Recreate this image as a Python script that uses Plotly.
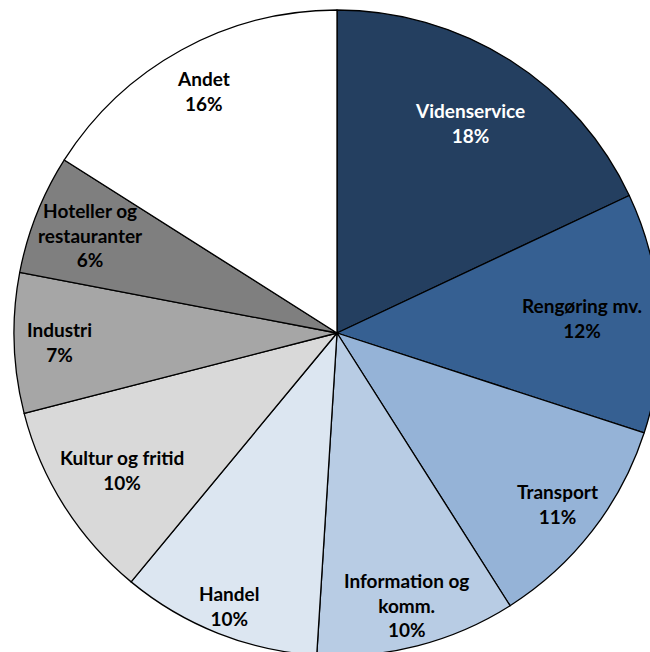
import math
import plotly.graph_objects as go

labels = ["Videnservice", "Rengøring mv.", "Transport", "Information og<br>komm.", "Handel",
          "Kultur og fritid", "Industri", "Hoteller og<br>restauranter", "Andet"]
values = [18, 12, 11, 10, 10, 10, 7, 6, 16]
colors = ["#243F60", "#366092", "#95B3D7", "#B8CCE4", "#DCE6F1",
          "#D9D9D9", "#A6A6A6", "#7F7F7F", "#FFFFFF"]
text_colors = ["white"] + ["black"] * 8
# radial position of each label as a fraction of the radius (layout only)
label_radius = [0.77, 0.76, 0.865, 0.87, 0.91, 0.79, 0.86, 0.82, 0.855]

W, H = 670, 670
cx, cy, r = 337, 333, 323

fig = go.Figure(go.Pie(
    labels=labels, values=values, sort=False, direction="clockwise", rotation=0,
    marker=dict(colors=colors, line=dict(color="black", width=1.3)),
    textinfo="none", hoverinfo="label+percent",
    domain=dict(x=[(cx - r) / W, (cx + r) / W], y=[1 - (cy + r) / H, 1 - (cy - r) / H]),
    showlegend=False,
))

total = sum(values)
cum = 0
annotations = []
for lab, v, tc, fr in zip(labels, values, text_colors, label_radius):
    mid = (cum + v / 2) / total * 2 * math.pi
    cum += v
    d = fr * r
    px = cx + d * math.sin(mid)
    py = cy - d * math.cos(mid)
    annotations.append(dict(
        x=px / W, y=1 - py / H, xref="paper", yref="paper",
        text=f"<b>{lab}<br>{round(v / total * 100)}%</b>",
        showarrow=False, xanchor="center", yanchor="middle", align="center",
        font=dict(family="Lato", size=19, color=tc),
    ))

fig.update_layout(width=W, height=H, margin=dict(l=0, r=0, t=0, b=0),
                  paper_bgcolor="white", plot_bgcolor="white",
                  annotations=annotations)
fig.write_html("out.html", config={"displayModeBar": False},
               post_script="document.body.style.margin='0';document.body.style.overflow='hidden';")
